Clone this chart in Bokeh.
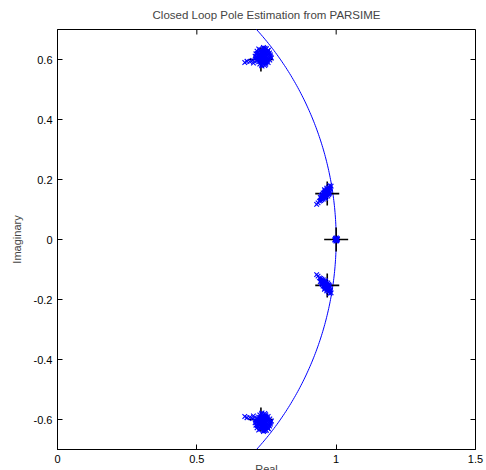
import numpy as np
from bokeh.plotting import figure
from bokeh.models import Range1d, FixedTicker, Title
from bokeh.embed import file_html
from bokeh.resources import INLINE

# ---- data ----
x_ticks = [0, 0.5, 1, 1.5]
x_tick_labels = ["0", "0.5", "1", "1.5"]
y_ticks = [-0.6, -0.4, -0.2, 0, 0.2, 0.4, 0.6]
y_tick_labels = ["-0.6", "-0.4", "-0.2", "0", "0.2", "0.4", "0.6"]

# true closed-loop poles (black +)
true_re = [0.73, 0.73, 0.968, 0.968, 1.0]
true_im = [0.60, -0.60, 0.153, -0.153, 0.0]

# estimated poles, upper complex pair near 0.737+0.608i
est_a_re = [0.735, 0.742, 0.728, 0.751, 0.720, 0.738, 0.746, 0.731, 0.757, 0.716,
            0.741, 0.733, 0.749, 0.725, 0.762, 0.712, 0.737, 0.744, 0.722, 0.753,
            0.730, 0.747, 0.719, 0.739, 0.759, 0.727, 0.744, 0.734, 0.716, 0.750,
            0.741, 0.729, 0.755, 0.723, 0.736, 0.765, 0.709, 0.726, 0.743, 0.732,
            0.748, 0.721, 0.738, 0.754, 0.714, 0.700, 0.690, 0.680, 0.672, 0.703,
            0.733, 0.745, 0.727, 0.740, 0.752, 0.718, 0.736, 0.758, 0.724, 0.747,
            0.729, 0.739, 0.750, 0.761, 0.768, 0.734, 0.744, 0.756, 0.722, 0.731,
            0.743, 0.753, 0.764, 0.726, 0.737, 0.748, 0.717, 0.711, 0.745, 0.757]
est_a_im = [0.607, 0.615, 0.598, 0.603, 0.612, 0.625, 0.594, 0.620, 0.610, 0.600,
            0.632, 0.588, 0.618, 0.628, 0.598, 0.619, 0.590, 0.605, 0.592, 0.624,
            0.611, 0.584, 0.606, 0.636, 0.617, 0.617, 0.628, 0.601, 0.628, 0.592,
            0.596, 0.606, 0.629, 0.603, 0.614, 0.609, 0.611, 0.585, 0.620, 0.581,
            0.609, 0.622, 0.600, 0.597, 0.609, 0.597, 0.593, 0.594, 0.590, 0.588,
            0.612, 0.610, 0.593, 0.602, 0.615, 0.596, 0.621, 0.603, 0.609, 0.600,
            0.632, 0.640, 0.636, 0.622, 0.605, 0.578, 0.580, 0.590, 0.635, 0.626,
            0.624, 0.623, 0.615, 0.613, 0.596, 0.588, 0.620, 0.603, 0.638, 0.631]

# estimated poles, complex pair near 0.962+0.153i
est_b_re = [0.962, 0.968, 0.955, 0.973, 0.950, 0.965, 0.958, 0.978, 0.946, 0.970,
            0.960, 0.975, 0.952, 0.966, 0.957, 0.982, 0.948, 0.963, 0.971, 0.954,
            0.969, 0.959, 0.976, 0.944, 0.964, 0.951, 0.972, 0.961, 0.940, 0.935,
            0.930, 0.967, 0.956, 0.974, 0.961, 0.953, 0.947, 0.958, 0.966, 0.972,
            0.977, 0.962, 0.949, 0.956, 0.964, 0.970, 0.980, 0.943, 0.975, 0.958]
est_b_im = [0.153, 0.160, 0.145, 0.166, 0.139, 0.150, 0.157, 0.172, 0.135, 0.158,
            0.147, 0.163, 0.146, 0.165, 0.151, 0.178, 0.141, 0.160, 0.152, 0.135,
            0.168, 0.162, 0.156, 0.130, 0.144, 0.150, 0.174, 0.140, 0.128, 0.122,
            0.117, 0.155, 0.154, 0.160, 0.148, 0.155, 0.147, 0.166, 0.171, 0.150,
            0.180, 0.137, 0.132, 0.140, 0.162, 0.145, 0.168, 0.140, 0.152, 0.143]

# estimated real pole near 1.0
est_c_re = [1.000, 1.004, 0.996, 1.002, 0.998, 1.005, 0.995, 1.001, 0.999, 1.003, 0.997]
est_c_im = [0.000, 0.003, -0.002, -0.004, 0.004, 0.001, -0.001, 0.005, -0.005, -0.002, 0.002]

FONT = "Liberation Sans"
BLUE = "#0000ff"

p = figure(width=486, height=470, output_backend="svg", toolbar_location=None,
           x_range=Range1d(0, 1.5), y_range=Range1d(-0.7, 0.7),
           min_border_left=57, min_border_right=11, min_border_top=29,
           min_border_bottom=21, title="Closed Loop Pole Estimation from PARSIME")
p.background_fill_color = "white"
p.border_fill_color = "white"
p.outline_line_color = "black"
p.outline_line_width = 1
p.grid.visible = False

p.title.align = "center"
p.title.text_font = FONT
p.title.text_font_size = "11.5px"
p.title.text_font_style = "normal"
p.title.vertical_align = "top"
p.title.standoff = 14

def style_axis(ax, ticks, labels):
    ax.ticker = FixedTicker(ticks=ticks)
    ax.major_label_overrides = {t: l for t, l in zip(ticks, labels)}
    ax.major_tick_in = 5
    ax.major_tick_out = 0
    ax.minor_tick_in = 0
    ax.minor_tick_out = 0
    ax.axis_line_color = "black"
    ax.major_tick_line_color = "black"
    ax.major_label_text_font = FONT
    ax.major_label_text_font_size = "11px"
    ax.major_label_text_color = "black"
    ax.major_label_standoff = 5

style_axis(p.xaxis[0], x_ticks, x_tick_labels)
style_axis(p.yaxis[0], y_ticks, y_tick_labels)
p.yaxis[0].axis_label = "Imaginary"
p.yaxis[0].axis_label_text_font = FONT
p.yaxis[0].axis_label_text_font_size = "11px"
p.yaxis[0].axis_label_text_font_style = "normal"
p.yaxis[0].axis_label_standoff = 8

# inward ticks on the top and right edges (dash markers clipped at the frame)
p.scatter(x_ticks, [p.y_range.end] * len(x_ticks), marker="dash", angle=np.pi / 2,
          size=10, line_color="black", line_width=1)
p.scatter([p.x_range.end] * len(y_ticks), y_ticks, marker="dash",
          size=10, line_color="black", line_width=1)

# unit circle
theta = np.linspace(-np.pi / 2, np.pi / 2, 400)
p.line(np.cos(theta), np.sin(theta), line_color=BLUE, line_width=1)

# true poles
p.scatter(true_re, true_im, marker="cross", size=24, line_color="black", line_width=1.6)

# estimates (with conjugates)
est_re = est_a_re + est_a_re + est_b_re + est_b_re + est_c_re
est_im = est_a_im + [-v for v in est_a_im] + est_b_im + [-v for v in est_b_im] + est_c_im
p.scatter(est_re, est_im, marker="x", size=6.5, line_color=BLUE, line_width=1.1)

p.add_layout(Title(text="Real", align="center", text_font=FONT, text_font_size="11px",
                   text_font_style="normal", standoff=-10), "below")

open("out.html", "w").write(file_html(p, INLINE))
